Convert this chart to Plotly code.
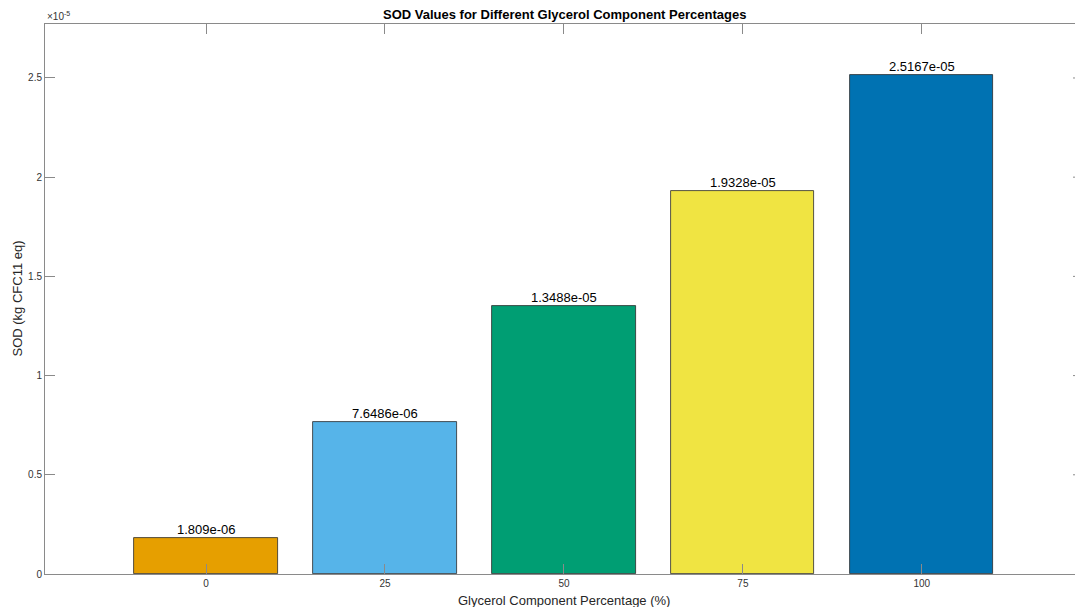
import plotly.graph_objects as go

# Glycerol share (%) and the resulting stratospheric ozone depletion
percentages = [0, 25, 50, 75, 100]
sod_values = [1.809e-06, 7.6486e-06, 1.3488e-05, 1.9328e-05, 2.5167e-05]
bar_colors = ["#E69F00", "#56B4E9", "#009E73", "#F0E442", "#0072B2"]
y_ticks = [0, 0.5e-5, 1.0e-5, 1.5e-5, 2.0e-5, 2.5e-5]
y_tick_text = ["0", "0.5", "1", "1.5", "2", "2.5"]

FONT = "Liberation Sans, Arial, Helvetica, sans-serif"
AXIS_GRAY = "#8a8a8a"
TEXT_GRAY = "#333333"

W, H = 1075, 607
L, R, T, B = 45, 0, 24, 33
X_RANGE = [-22.5, 121.4]
Y_RANGE = [0, 2.772e-5]

fig = go.Figure()
fig.add_trace(go.Bar(
    x=percentages,
    y=sod_values,
    width=20,
    marker=dict(color=bar_colors, line=dict(color="#2b2b2b", width=0.8)),
    hoverinfo="x+y",
))

# value labels above the bars
for p, v in zip(percentages, sod_values):
    fig.add_annotation(
        x=p, y=v, xref="x", yref="y",
        text=f"{v:.5g}", showarrow=False,
        yanchor="bottom", yshift=-1,
        font=dict(family=FONT, size=13, color="#000000"),
    )

# axis exponent marker
fig.add_annotation(
    x=0, y=1, xref="paper", yref="paper",
    text="×10<sup>-5</sup>", showarrow=False,
    xanchor="left", yanchor="bottom", yshift=0,
    font=dict(family=FONT, size=10, color=TEXT_GRAY),
)

# inward ticks of the right-hand spine that reach into view
plot_w = W - L - R
for yt in y_ticks[1:]:
    fig.add_shape(
        type="line", xref="paper", yref="y",
        x0=(1073 - L) / plot_w, x1=1.0, y0=yt, y1=yt,
        line=dict(color=AXIS_GRAY, width=1),
    )

center_x = (564 - L) / plot_w

fig.add_annotation(
    x=center_x, y=1, xref="paper", yref="paper",
    text="<b>SOD Values for Different Glycerol Component Percentages</b>",
    showarrow=False, yanchor="bottom", yshift=0,
    font=dict(family=FONT, size=13, color="#000000"),
)
fig.add_annotation(
    x=center_x, y=0, xref="paper", yref="paper",
    text="Glycerol Component Percentage (%)",
    showarrow=False, yanchor="top", yshift=-17,
    font=dict(family=FONT, size=13, color="#262626"),
)
fig.add_annotation(
    x=0, y=0.5, xref="paper", yref="paper",
    text="SOD (kg CFC11 eq)", textangle=-90,
    showarrow=False, xanchor="right", xshift=-19,
    font=dict(family=FONT, size=13, color="#262626"),
)

fig.update_layout(
    width=W, height=H,
    margin=dict(l=L, r=R, t=T, b=B),
    paper_bgcolor="white", plot_bgcolor="white",
    showlegend=False,
    bargap=0,
    font=dict(family=FONT, size=10, color=TEXT_GRAY),
    xaxis=dict(
        range=X_RANGE, tickvals=percentages,
        ticks="inside", ticklen=10, tickcolor=AXIS_GRAY, tickwidth=1,
        showline=True, linecolor=AXIS_GRAY, linewidth=1, mirror="ticks",
        showgrid=False, zeroline=False,
        tickfont=dict(family=FONT, size=10, color=TEXT_GRAY),
    ),
    yaxis=dict(
        range=Y_RANGE, tickvals=y_ticks, ticktext=y_tick_text,
        ticks="inside", ticklen=10, tickcolor=AXIS_GRAY, tickwidth=1,
        showline=True, linecolor=AXIS_GRAY, linewidth=1,
        showgrid=False, zeroline=False,
        tickfont=dict(family=FONT, size=10, color=TEXT_GRAY),
    ),
)

fig.write_html("out.html")
